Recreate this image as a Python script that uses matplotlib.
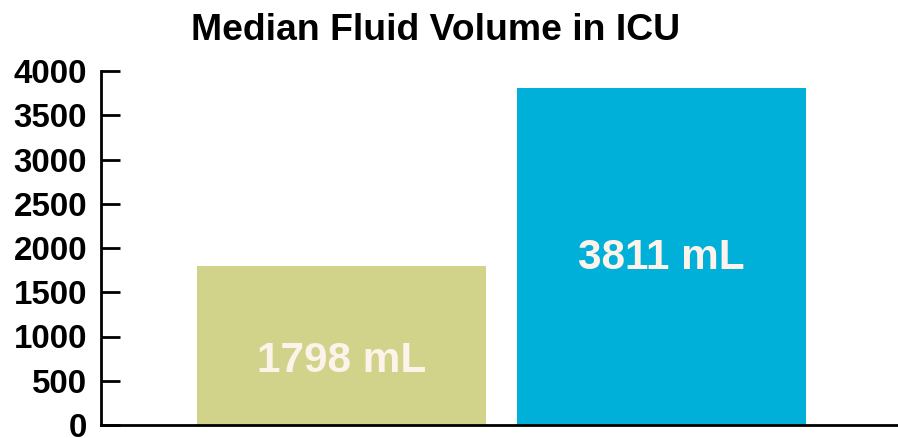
import matplotlib
matplotlib.use("Agg")
import matplotlib.pyplot as plt

# data
groups = ["Group A", "Group B"]
volumes = [1798, 3811]
labels = ["1798 mL", "3811 mL"]
colors = ["#d1d38b", "#00b0d8"]
yticks = [0, 500, 1000, 1500, 2000, 2500, 3000, 3500, 4000]

plt.rcParams['font.family'] = ['Liberation Sans', 'DejaVu Sans']
plt.rcParams['font.weight'] = 'bold'

fig = plt.figure(figsize=(8.98, 4.38), dpi=100)
ax = fig.add_axes([101 / 898, 13 / 438, 797 / 898, 354 / 438])

x = range(len(groups))
ax.bar(x, volumes, width=0.903, color=colors)

# label height as a fraction of each bar
label_frac = [0.40, 0.495]
for i, v in enumerate(volumes):
    ax.text(i, v * label_frac[i], labels[i], ha='center', va='center',
            color='#fdf3ea', fontsize=30.4, fontweight='bold')

ax.set_xlim(-0.752, 1.739)
ax.set_ylim(0, 4000)
ax.set_yticks(yticks)
ax.set_xticks([])
ax.tick_params(axis='y', direction='in', length=14, width=2, pad=10,
               labelsize=23.9)
for lab in ax.get_yticklabels():
    lab.set_fontweight('bold')

ax.spines['top'].set_visible(False)
ax.spines['right'].set_visible(False)
ax.spines['left'].set_linewidth(2)
ax.spines['bottom'].set_linewidth(2)

fig.text(436 / 898, 1 - 30 / 438, "Median Fluid Volume in ICU", ha='center',
         va='center', fontsize=26.9, fontweight='bold')

fig.savefig("out.png", dpi=100)
